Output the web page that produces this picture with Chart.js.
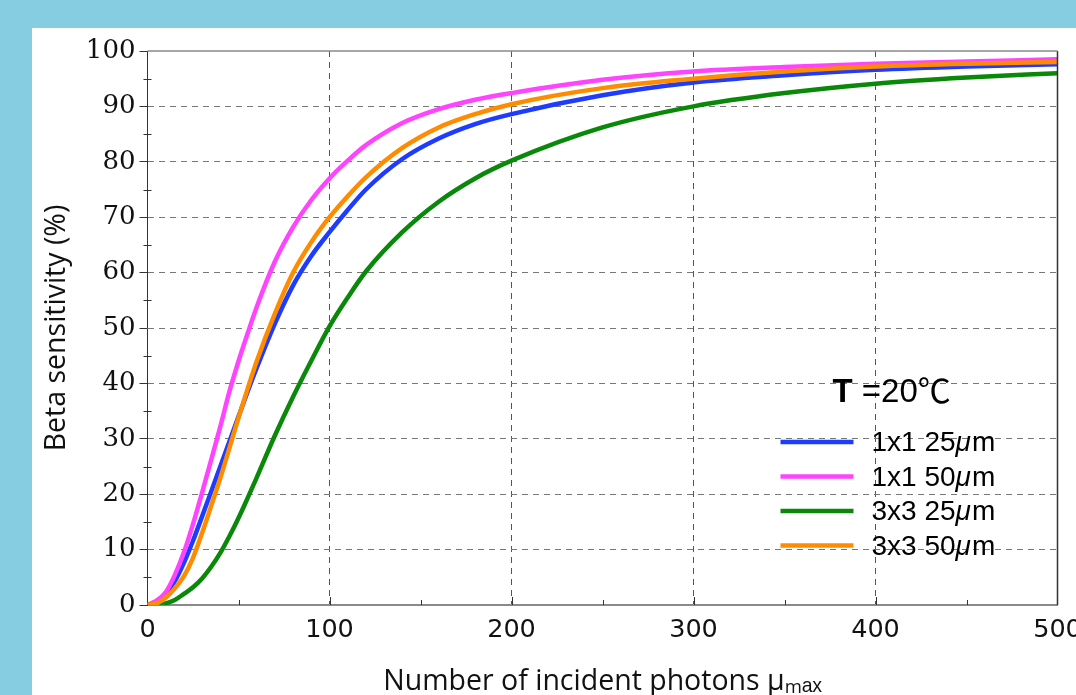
<!DOCTYPE html>
<html>
<head>
<meta charset="utf-8">
<script src="https://cdn.jsdelivr.net/npm/chart.js@4.4.1/dist/chart.umd.min.js"></script>
<style>
html, body { margin: 0; padding: 0; background: #86cde2; overflow: hidden; width: 1076px; height: 695px; }
#panel { position: absolute; left: 32px; top: 28px; width: 1080px; height: 700px; background: #fff; }
canvas { display: block; }
</style>
</head>
<body>
<div id="panel"><canvas id="line-chart" width="1080" height="700"></canvas></div>
<script>
// number of incident photons
let photons = [0, 5, 10, 15, 20, 25, 30, 35, 40, 45, 50, 55, 60, 70, 80, 90, 100, 110, 120, 140, 160, 180, 200, 250, 300, 350, 400, 450, 500];

// beta sensitivity (%)
let s1x1_25 = [0, 0.6, 2.0, 4.3, 7.6, 11.6, 16.0, 20.5, 25.0, 29.5, 34.0, 38.5, 42.8, 50.8, 57.7, 63.0, 67.3, 71.3, 75, 80.5, 84.2, 86.8, 88.6, 92, 94.3, 95.6, 96.6, 97.2, 97.6];
let s1x1_50 = [0, 0.8, 2.3, 5.4, 9.5, 14.6, 20.3, 26.2, 32.2, 38.5, 44, 49, 53.8, 62, 68.2, 73.1, 77, 80.2, 83, 87, 89.5, 91.2, 92.4, 94.8, 96.3, 97.1, 97.7, 98.1, 98.5];
let s3x3_25 = [0, 0.05, 0.3, 0.9, 2.0, 3.2, 4.8, 6.9, 9.4, 12.4, 15.7, 19.3, 23.0, 30.6, 37.6, 44.1, 50.3, 55.5, 60.2, 67.3, 72.8, 77, 80.2, 86.2, 90, 92.4, 94.1, 95.2, 96];
let s3x3_50 = [0, 0.3, 1.3, 3, 5.2, 8.5, 13, 17.9, 22.9, 28.3, 33.8, 39, 44, 52.6, 60, 65.5, 70, 73.8, 77.2, 82.5, 86.2, 88.6, 90.4, 93.3, 95, 96.3, 97.2, 97.7, 98];

let labels = ['1x1 25μm', '1x1 50μm', '3x3 25μm', '3x3 50μm'];
let legendTitle = ['T', ' =20', '℃'];

function pts(arr) {
  return photons.map((x, i) => ({x: x, y: arr[i]}));
}

let xTickFont = {family: "'DejaVu Sans', sans-serif", size: 25.5};
let yTickFont = {family: "'DejaVu Serif', serif", size: 26};
let titleFont = {family: "'Open Sans', sans-serif", size: 28.5};

// minor ticks, inner ticks, frame
const frame = {
  id: 'frame',
  afterDraw(chart) {
    const {ctx, chartArea: a, scales: {x, y}} = chart;
    ctx.save();
    ctx.strokeStyle = '#333';
    ctx.lineWidth = 1;
    ctx.beginPath();
    for (let i = 0; i < y.ticks.length - 1; i++) {
      let py = Math.round(y.getPixelForValue((y.ticks[i].value + y.ticks[i + 1].value) / 2)) + 0.5;
      ctx.moveTo(a.left - 4, py);
      ctx.lineTo(a.left + 4, py);
    }
    for (let i = 0; i < x.ticks.length - 1; i++) {
      let px = Math.round(x.getPixelForValue((x.ticks[i].value + x.ticks[i + 1].value) / 2)) + 0.5;
      ctx.moveTo(px, a.bottom);
      ctx.lineTo(px, a.bottom - 5);
      if (i > 0) {
        let mx = Math.round(x.getPixelForValue(x.ticks[i].value)) + 0.5;
        ctx.moveTo(mx, a.bottom);
        ctx.lineTo(mx, a.bottom - 8);
      }
    }
    ctx.stroke();
    // right border
    ctx.lineWidth = 1.5;
    ctx.beginPath();
    ctx.moveTo(a.right, a.top);
    ctx.lineTo(a.right, a.bottom);
    ctx.stroke();
    // top border
    ctx.strokeStyle = '#8a8a8a';
    ctx.beginPath();
    ctx.moveTo(a.left, a.top);
    ctx.lineTo(a.right, a.top);
    ctx.stroke();
    ctx.restore();
  }
};

const legendBox = {
  id: 'legendBox',
  afterDraw(chart) {
    const {ctx, chartArea: a} = chart;
    const fam = '"Liberation Sans", Arial, sans-serif';
    ctx.save();
    ctx.fillStyle = '#000';
    ctx.textBaseline = 'alphabetic';
    let tx = a.right - 225;
    let ty = a.top + 351;
    ctx.font = 'bold 33px ' + fam;
    ctx.fillText(legendTitle[0], tx, ty);
    tx += ctx.measureText(legendTitle[0]).width;
    ctx.font = '33px ' + fam;
    ctx.fillText(legendTitle[1], tx, ty);
    tx += ctx.measureText(legendTitle[1]).width;
    ctx.font = '33px "Noto Sans CJK SC", sans-serif';
    ctx.fillText(legendTitle[2], tx, ty + 1);

    ctx.textBaseline = 'middle';
    chart.data.datasets.forEach((ds, i) => {
      let ly = a.top + 391 + i * 34.5;
      ctx.strokeStyle = ds.borderColor;
      ctx.lineWidth = 4.5;
      ctx.beginPath();
      ctx.moveTo(a.right - 277, ly);
      ctx.lineTo(a.right - 204, ly);
      ctx.stroke();
      let parts = ds.label.split('μ');
      let px = a.right - 186;
      ly += 1.5;
      ctx.font = '28px ' + fam;
      ctx.fillText(parts[0], px, ly);
      px += ctx.measureText(parts[0]).width;
      ctx.font = 'italic 28px ' + fam;
      ctx.fillText('μ', px, ly);
      px += ctx.measureText('μ').width + 1;
      ctx.font = '28px ' + fam;
      ctx.fillText(parts[1], px, ly);
    });
    ctx.restore();
  }
};

function edgeColor(c, min, max, col) {
  if (c.tick && (c.tick.value === min || c.tick.value === max)) return 'rgba(0,0,0,0)';
  return col;
}

new Chart(document.getElementById('line-chart'), {
  type: 'line',
  data: {
    datasets: [{
        data: pts(s1x1_25),
        label: labels[0],
        borderColor: '#1e3cff',
        order: 4
      }, {
        data: pts(s1x1_50),
        label: labels[1],
        borderColor: '#ff44ff',
        order: 3
      }, {
        data: pts(s3x3_25),
        label: labels[2],
        borderColor: '#0a880a',
        order: 2
      }, {
        data: pts(s3x3_50),
        label: labels[3],
        borderColor: '#ff8c00',
        order: 1
      }
    ]
  },
  options: {
    responsive: false,
    animation: false,
    events: [],
    layout: {padding: {top: 23, right: 54.5, left: 0, bottom: 0}},
    elements: {
      point: {radius: 0},
      line: {borderWidth: 4.5, fill: false, cubicInterpolationMode: 'monotone'}
    },
    plugins: {
      legend: {display: false},
      tooltip: {enabled: false}
    },
    scales: {
      x: {
        type: 'linear',
        min: 0,
        max: 500,
        ticks: {stepSize: 100, color: '#111', font: xTickFont, padding: 10, maxRotation: 0},
        grid: {
          drawTicks: false,
          lineWidth: 1,
          color: c => edgeColor(c, 0, 500, '#555')
        },
        border: {color: '#8a8a8a', width: 2, dash: [6, 5]},
        title: {display: true, text: 'Number of incident photons μₘₐₓ', color: '#111', font: titleFont, padding: {top: 0, bottom: 29}},
        afterFit: s => { s.height = 123; }
      },
      y: {
        min: 0,
        max: 100,
        ticks: {stepSize: 10, color: '#111', font: yTickFont, padding: 4},
        grid: {
          drawTicks: true,
          tickLength: 8,
          tickColor: '#333',
          tickWidth: 1,
          lineWidth: 1,
          color: c => edgeColor(c, 0, 100, '#777')
        },
        border: {color: '#333', width: 1, dash: [6, 5]},
        title: {display: true, text: 'Beta sensitivity (%)', color: '#111', font: titleFont, padding: {top: 8, bottom: 0}},
        afterFit: s => { s.width = 115.5; }
      }
    }
  },
  plugins: [frame, legendBox]
});
</script>
</body>
</html>
